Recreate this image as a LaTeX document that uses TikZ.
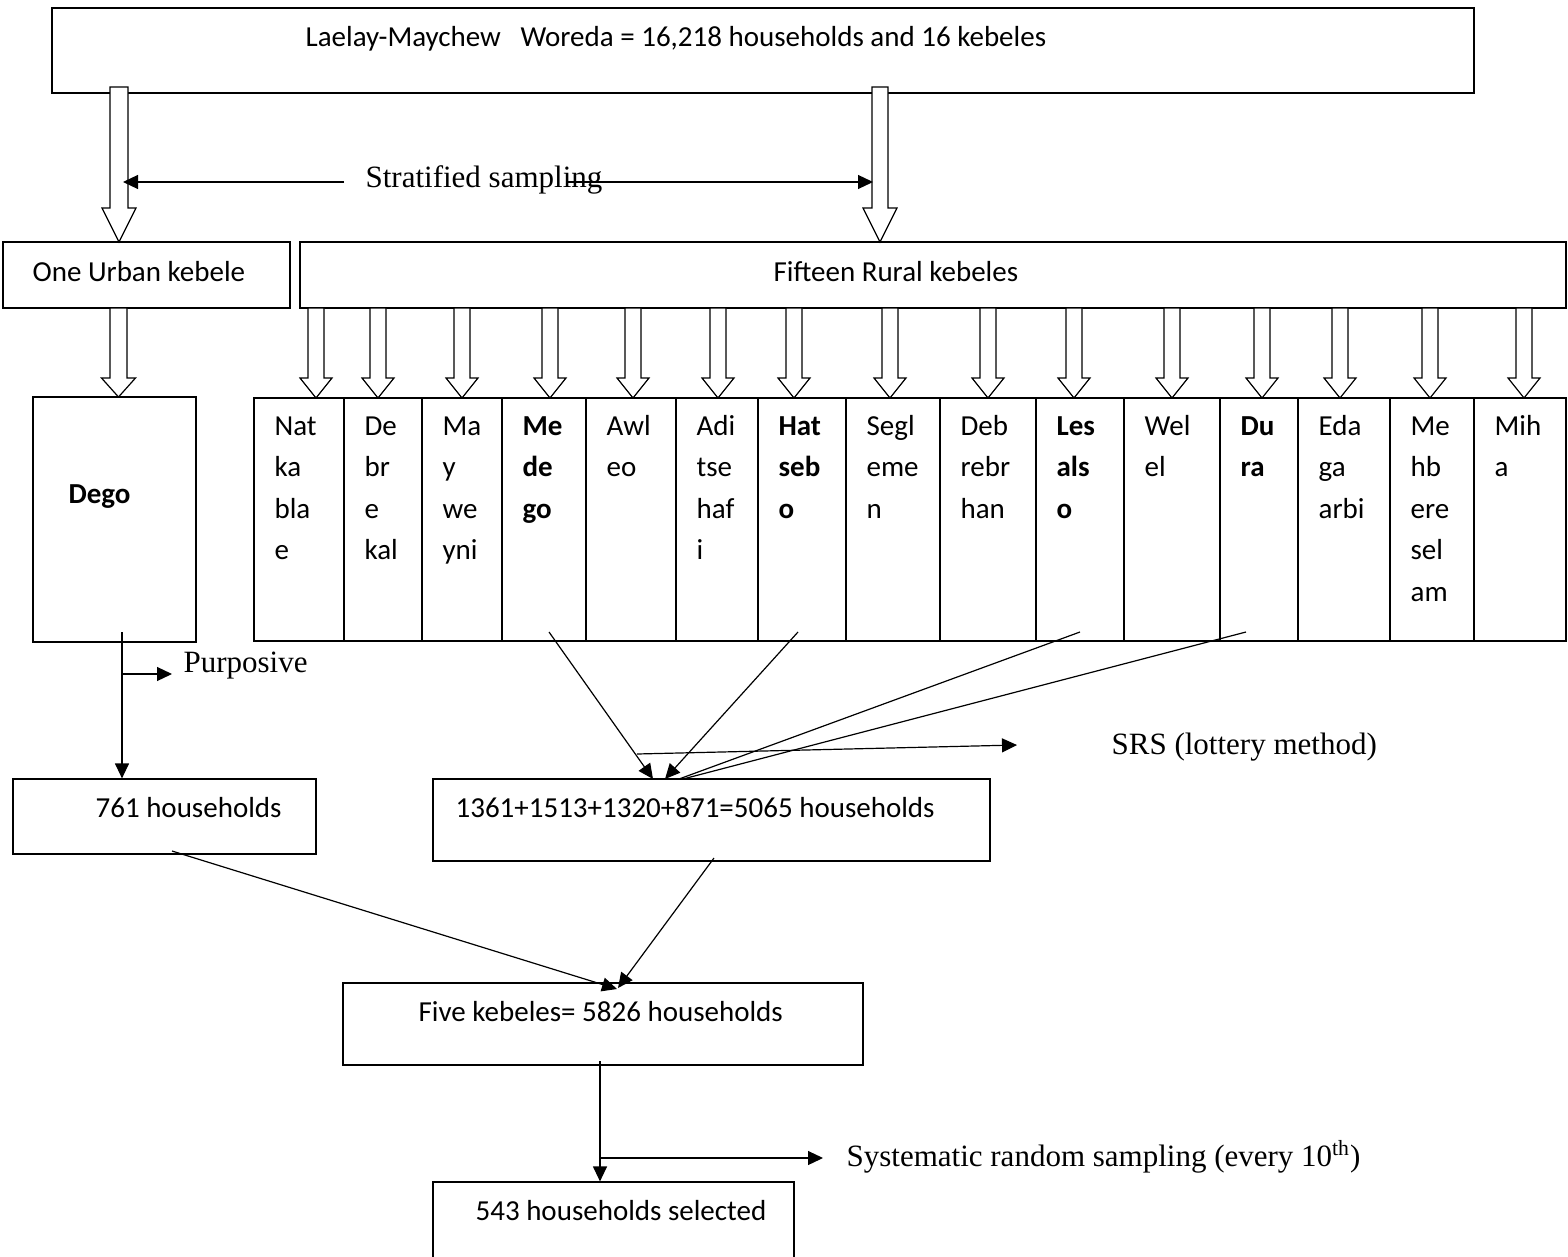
\documentclass[tikz,border=0pt]{standalone}
\usepackage{fontspec}
\setmainfont{Carlito}
\newfontfamily\tnr{Liberation Serif}
\usetikzlibrary{arrows.meta,fit}
\newcommand{\kfont}{\fontsize{14.5pt}{18pt}\selectfont}
\newcommand{\fatarrow}[6]{%
	\draw[fill=white] (#1-#5,#2) -- (#1-#5,#3) -- (#1-#6,#3) -- (#1,#4) -- (#1+#6,#3) -- (#1+#5,#3) -- (#1+#5,#2) -- cycle;}
\tikzset{
	box/.style={draw,inner sep=0pt},
	txt/.style={anchor=base west,inner sep=0pt},
	lbl/.style={anchor=base west,inner sep=0pt,font=\fontsize{15.5pt}{18pt}\selectfont\tnr},
	arr/.style={-{Triangle[length=7.5pt,width=7pt]}}
}
\begin{document}
\begin{tikzpicture}[x=0.5pt,y=-0.5pt,line width=0.6pt,font=\kfont]
	\useasboundingbox (0,0) rectangle (1568,1257);
	\node[box,fit={(52,8) (1474,93)}] (woreda) {};
	\node[txt] (woredatxt) at (305,47) {Laelay-Maychew\ \ \ Woreda = 16,218 households and 16 kebeles};
	\node[box,fit={(3,242) (290,308)}] (urban) {};
	\node[txt] (urbantxt) at (32,281) {One Urban kebele};
	\node[box,fit={(300,242) (1566,308)}] (rural) {};
	\node[txt] (ruraltxt) at (773,281) {Fifteen Rural kebeles};
	\fatarrow{119}{87}{208}{242}{9}{17}
	\fatarrow{880}{87}{208}{242}{8}{17}
	\node[lbl] (strat) at (365,188) {Stratified sampling};
	\coordinate (sl0) at (344,182);
	\coordinate (sl1) at (123,182);
	\coordinate (sr0) at (568,182);
	\coordinate (sr1) at (873,182);
	\draw[arr] (sl0) -- (sl1);
	\draw[arr] (sr0) -- (sr1);
	\node[box,fit={(33,397) (196,642)}] (dego) {};
	\node[txt,font=\kfont\bfseries] (degotxt) at (68,503) {Dego};
	\fatarrow{118.5}{308}{378}{397}{8.5}{17}
	\foreach \i/\xa/\xb/\ax/\f/\words in {
		1/254/344/316/\mdseries/{Nat,ka,bla,e},
		2/344/422/378/\mdseries/{De,br,e,kal},
		3/422/502/462/\mdseries/{Ma,y,we,yni},
		4/502/586/550/\bfseries/{Me,de,go},
		5/586/676/633/\mdseries/{Awl,eo},
		6/676/758/718/\mdseries/{Adi,tse,haf,i},
		7/758/846/794/\bfseries/{Hat,seb,o},
		8/846/940/890/\mdseries/{Segl,eme,n},
		9/940/1036/988/\mdseries/{Deb,rebr,han},
		10/1036/1124/1074/\bfseries/{Les,als,o},
		11/1124/1220/1172/\mdseries/{Wel,el},
		12/1220/1298/1262/\bfseries/{Du,ra},
		13/1298/1390/1340/\mdseries/{Eda,ga,arbi},
		14/1390/1474/1430/\mdseries/{Me,hb,ere,sel,am},
		15/1474/1566/1524/\mdseries/{Mih,a}}{
		\node[box,fit={(\xa,398) (\xb,641)}] (col\i) {};
		\fatarrow{\ax}{308}{378}{398}{8}{16}
		\foreach \w [count=\k] in \words
			\node[txt,font=\kfont\f] (col\i-\k) at (\xa+20,435+41.5*\k-41.5) {\w};
	}
	\node[box,fit={(13,779) (316,854)}] (hh761) {};
	\node[txt] (hh761txt) at (95,817) {761 households};
	\coordinate (p0) at (122,632);
	\coordinate (p1) at (122,674);
	\coordinate (p2) at (172,674);
	\draw[arr] (p0) -- (p0 |- hh761.north);
	\draw[arr] (p1) -- (p2);
	\node[lbl] (purp) at (183,672) {Purposive};
	\node[box,fit={(433,779) (990,861)}] (hh5065) {};
	\node[txt] (hh5065txt) at (455,817) {1361+1513+1320+871=5065 households};
	\coordinate (m1) at (549,632);
	\coordinate (m2) at (798,632);
	\coordinate (m3) at (1080,632);
	\coordinate (m4) at (1246,632);
	\coordinate (e1) at (653,779);
	\coordinate (e2) at (665,779);
	\coordinate (e3) at (679,779);
	\coordinate (e4) at (683,779);
	\draw[arr] (m1) -- (e1);
	\draw[arr] (m2) -- (e2);
	\draw (m3) -- (e3);
	\draw (m4) -- (e4);
	\coordinate (r0) at (637,754);
	\coordinate (r1) at (1017,745);
	\draw[arr] (r0) -- (r1);
	\node[lbl] (srs) at (1111,754) {SRS (lottery method)};
	\node[box,fit={(343,983) (863,1065)}] (five) {};
	\node[txt] (fivetxt) at (418,1021) {Five kebeles= 5826 households};
	\coordinate (a0) at (172,851);
	\coordinate (a1) at (617,989);
	\coordinate (b0) at (714,858);
	\coordinate (b1) at (618,988);
	\draw[arr] (a0) -- (a1);
	\draw[arr] (b0) -- (b1);
	\node[box,fit={(433,1182) (794,1264)}] (final) {};
	\node[txt] (finaltxt) at (475,1220) {543 households selected};
	\coordinate (q0) at (600,1061);
	\coordinate (q1) at (600,1158);
	\coordinate (q2) at (823,1158);
	\draw[arr] (q0) -- (q0 |- final.north);
	\draw[arr] (q1) -- (q2);
	\node[lbl] (sys) at (846,1166) {Systematic random sampling (every 10\textsuperscript{th})};
\end{tikzpicture}
\end{document}
